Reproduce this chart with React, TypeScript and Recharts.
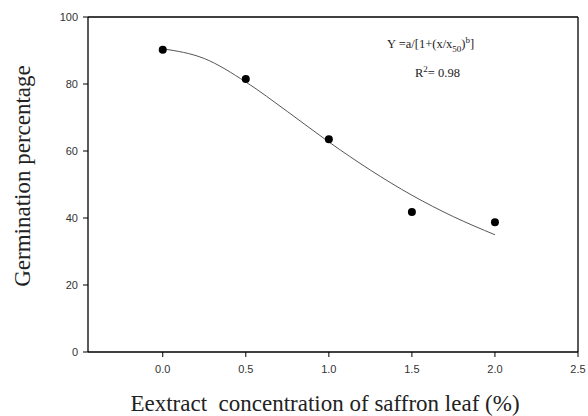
import { ComposedChart, Line, Scatter, XAxis, YAxis, ReferenceLine } from 'recharts'

// observed germination (%)
const concX = [0, 0.5, 1.0, 1.5, 2.0]
const germY = [90.2, 81.5, 63.5, 41.8, 38.7]

// fitted sigmoid
const fitX = [0, 0.25, 0.5, 0.75, 1.0, 1.25, 1.5, 1.75, 2.0]
const fitY = [90.5, 87.6, 80.6, 71.8, 62.7, 54.3, 46.8, 40.4, 35.0]

const xTicks = [0, 0.5, 1.0, 1.5, 2.0, 2.5]
const yTicks = [0, 20, 40, 60, 80, 100]

const points = concX.map((x, i) => ({ x, y: germY[i] }))
const curve = fitX.map((x, i) => ({ x, y: fitY[i] }))

const tickStyle = { fontSize: 11, fill: '#333', fontFamily: 'Liberation Sans, Arial, sans-serif' }
const serif = 'Liberation Serif, Times New Roman, serif'

const Dot = (p: any) => <circle cx={p.cx} cy={p.cy} r={4} fill="#000" />

export default function App() {
  return (
    <div style={{ position: 'absolute', left: 0, top: 0, width: 588, height: 416, background: '#fff' }}>
      <ComposedChart width={588} height={416} margin={{ top: 17, right: 10, bottom: 34, left: 0 }}>
        <XAxis
          type="number"
          dataKey="x"
          domain={[-0.45, 2.5]}
          ticks={xTicks}
          allowDataOverflow
          tickFormatter={(v: number) => v.toFixed(1)}
          tick={tickStyle}
          tickSize={5}
          tickMargin={8}
          axisLine={{ stroke: '#000', strokeWidth: 1.3 }}
          tickLine={{ stroke: '#000' }}
        />
        <YAxis
          type="number"
          dataKey="y"
          domain={[0, 100]}
          ticks={yTicks}
          width={88}
          tick={tickStyle}
          tickSize={5}
          tickMargin={5}
          axisLine={{ stroke: '#000', strokeWidth: 1.3 }}
          tickLine={{ stroke: '#000' }}
        />
        <ReferenceLine y={100} stroke="#000" strokeWidth={1.3} />
        <ReferenceLine x={2.5} stroke="#000" strokeWidth={1.3} />
        <Line data={curve} dataKey="y" type="monotone" stroke="#555" strokeWidth={1} dot={false} isAnimationActive={false} />
        <Scatter data={points} dataKey="y" shape={Dot} isAnimationActive={false} />
      </ComposedChart>

      <div style={{ position: 'absolute', left: 23, top: 176, transform: 'translate(-50%, -50%) rotate(-90deg)', whiteSpace: 'nowrap', fontFamily: serif, fontSize: 23, color: '#222' }}>
        Germination percentage
      </div>
      <div style={{ position: 'absolute', left: 325, top: 404, transform: 'translate(-50%, -50%)', whiteSpace: 'nowrap', fontFamily: serif, fontSize: 23, color: '#222' }}>
        Eextract&nbsp; concentration of saffron leaf (%)
      </div>
      <div style={{ position: 'absolute', left: 387, top: 35, whiteSpace: 'nowrap', fontFamily: serif, fontSize: 12.5, color: '#222' }}>
        Y =a/[1+(x/x<sub style={{ fontSize: 9 }}>50</sub>)<sup style={{ fontSize: 9 }}>b</sup>]
      </div>
      <div style={{ position: 'absolute', left: 415, top: 64, whiteSpace: 'nowrap', fontFamily: serif, fontSize: 12.5, color: '#222' }}>
        R<sup style={{ fontSize: 9 }}>2</sup>= 0.98
      </div>
    </div>
  )
}
